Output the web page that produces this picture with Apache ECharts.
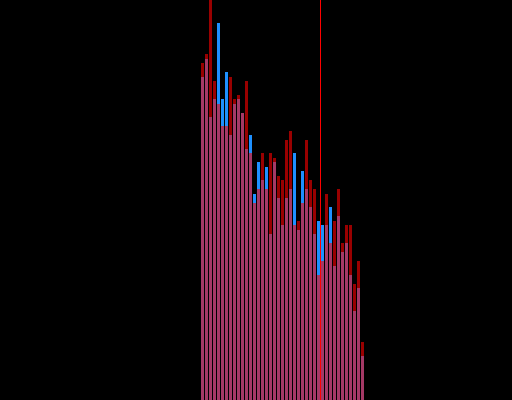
<!DOCTYPE html>
<html>
<head>
<meta charset="utf-8">
<style>
  html, body { margin: 0; padding: 0; background: #000; }
  #chart { width: 512px; height: 400px; }
</style>
<script src="https://cdn.jsdelivr.net/npm/echarts@6/dist/echarts.min.js"></script>
</head>
<body>
<div id="chart"></div>
<script>
// Data (bar heights in axis units, 0..400)
const blueValues = [323, 341, 283, 301, 377, 301, 328, 265, 296, 301,
                    287, 251, 265, 206, 238, 220, 233, 166, 238, 202,
                    175, 202, 211, 247, 170, 229, 211, 193, 166, 179,
                    175, 175, 193, 134, 184, 148, 157, 125, 89, 112, 44];
const redValues  = [337, 346, 400, 319, 296, 274, 274, 323, 301, 305,
                    287, 319, 247, 197, 211, 247, 211, 247, 242, 224,
                    220, 260, 269, 175, 179, 197, 260, 220, 211, 125,
                    139, 206, 157, 179, 211, 157, 175, 175, 116, 139, 58];
const markerPosition = 29.5;
const yMax = 400;

const toPairs = arr => arr.map((v, i) => [i, v]);

const chart = echarts.init(document.getElementById('chart'), null, { renderer: 'canvas' });
chart.setOption({
  backgroundColor: '#000000',
  animation: false,
  grid: { left: 200.5, right: 147.5, top: 0, bottom: 0 },
  xAxis: {
    type: 'value', min: -0.5, max: blueValues.length - 0.5,
    show: false, splitLine: { show: false }
  },
  yAxis: {
    type: 'value', min: 0, max: yMax,
    show: false, splitLine: { show: false }
  },
  series: [
    {
      type: 'bar',
      data: toPairs(blueValues),
      barWidth: 3,
      barGap: '-100%',
      itemStyle: { color: '#1e90ff' }
    },
    {
      type: 'bar',
      data: toPairs(redValues),
      barWidth: 3,
      barGap: '-100%',
      itemStyle: { color: 'rgba(255,0,0,0.6)' },
      markLine: {
        silent: true,
        symbol: 'none',
        label: { show: false },
        lineStyle: { color: '#ff0000', width: 1, type: 'solid', opacity: 1 },
        data: [{ xAxis: markerPosition }]
      }
    }
  ]
});
</script>
</body>
</html>
